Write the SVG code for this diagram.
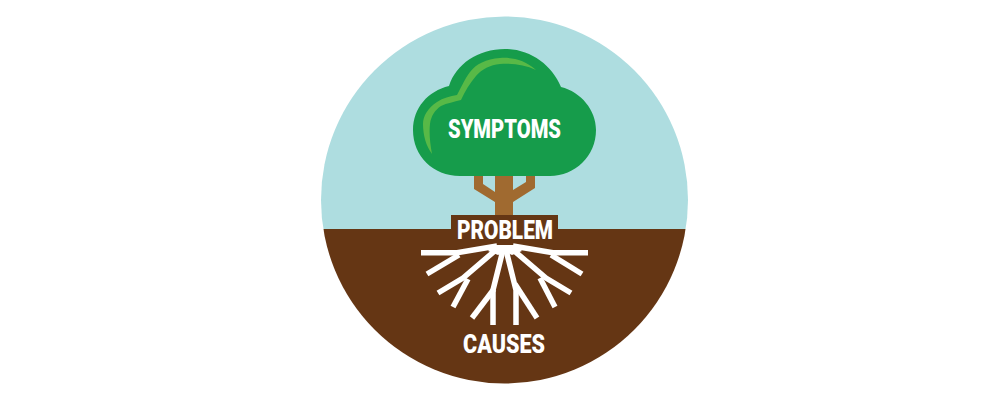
<svg xmlns="http://www.w3.org/2000/svg" width="1000" height="400" viewBox="0 0 1000 400">
<defs><clipPath id="c"><circle cx="504.5" cy="200" r="183.5"/></clipPath></defs>
<style>
.label{font-family:"Roboto","Liberation Sans",sans-serif;font-weight:900;font-size:25.5px;fill:#fff;text-anchor:middle}
.root{fill:none;stroke:#fff;stroke-width:5.5;stroke-linejoin:miter}
</style>
<rect width="1000" height="400" fill="#fff"/>
<g id="scene" clip-path="url(#c)">
<rect x="320" y="16" width="370" height="213" fill="#aedde0"/>
<rect x="320" y="229" width="370" height="156" fill="#653614"/>
</g>
<g id="tree">
<path fill="#a06a30" d="M474 176H483V184L495 192V176H513V190L526 182V176H535V188L513 202V216H495V202L474 189Z"/>
<path fill="#169c4b" d="M460 176C433 176 413 156 413 130C413 108 428 91 449 86C456 64 478 49 505 49C530 49 552 65 561 87C581 92 596 110 596 130C596 156 575 176 550 176Z"/>
<path fill="#58b947" d="M536 70C525 60 512 57 500 58C486 59 476 64 470 72C464 80 461 88 457 95C450 96 443 98 437 102C428 108 423 116 423 124C423 135 426 146 432 154C430 143 429 133 430 124C431 116 435 110 441 106C447 103 454 102 461 100C465 91 470 83 476 76C482 69 490 65 500 64C513 63 525 65 536 70Z"/>
<text class="label" x="504.5" y="137.5" textLength="113" lengthAdjust="spacingAndGlyphs">SYMPTOMS</text>
</g>
<g id="problem">
<rect x="451" y="215" width="107" height="15" fill="#653614"/>
<text class="label" x="505" y="238.5" textLength="96" lengthAdjust="spacingAndGlyphs">PROBLEM</text>
</g>
<g id="roots">
<path fill="#fff" d="M494 245H516L522 251L512 255L505 252L498 255L488 251Z"/>
<path class="root" d="M421 252.7H457L497 246"/>
<path class="root" d="M588 252.7H553L513 246"/>
<path class="root" d="M427 274L459 255"/>
<path class="root" d="M582 274L551 255"/>
<path class="root" d="M497 249L463 278L438 293"/>
<path class="root" d="M453 307L468 279"/>
<path class="root" d="M512 249L546 278L571 293"/>
<path class="root" d="M555 307L540 278"/>
<path class="root" d="M503 250L493 290V325"/>
<path class="root" d="M472 318L494 289"/>
<path class="root" d="M506 250L516 290V325"/>
<path class="root" d="M537 318L515 284"/>
</g>
<g id="causes">
<text class="label" x="504" y="352.5" textLength="82" lengthAdjust="spacingAndGlyphs">CAUSES</text>
</g>
</svg>
